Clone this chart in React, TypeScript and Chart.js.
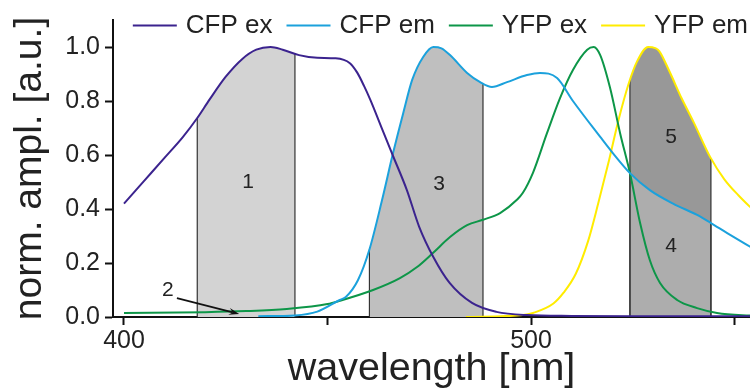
import { useEffect, useRef } from "react";
import { Chart, registerables } from "chart.js";

Chart.register(...registerables);

const FONT = "'Liberation Sans', Arial, Helvetica, sans-serif";
const TEXT = "#222222";
const AXIS = "#111111";

// CFP excitation spectrum
const CFP_EX_NM = [400, 405, 410, 414.5, 418, 421, 425, 429, 432.5, 436, 439, 443, 447.5, 452, 455.5, 457.3, 459, 460.5, 463.5, 466, 469.5, 472.5, 476, 480, 485.5, 491.5, 499, 510, 525, 555];
const CFP_EX = [0.42, 0.505, 0.59, 0.667, 0.737, 0.805, 0.89, 0.955, 0.99, 1.0, 0.99, 0.97, 0.96, 0.958, 0.94, 0.905, 0.855, 0.805, 0.693, 0.6, 0.47, 0.335, 0.222, 0.126, 0.052, 0.019, 0.007, 0.004, 0.003, 0.003];

// CFP emission spectrum
const CFP_EM_NM = [433, 442, 447.5, 453, 454.5, 457.5, 460.3, 463.4, 466.1, 468.6, 470.8, 473.5, 476, 478, 480.1, 484.3, 487.5, 490.4, 494.1, 499, 502.2, 506.4, 510.3, 517, 520.1, 524.3, 529.2, 534.9, 540.8, 544.2, 548.2, 555];
const CFP_EM = [0.003, 0.006, 0.02, 0.063, 0.074, 0.137, 0.25, 0.433, 0.607, 0.755, 0.878, 0.963, 1.0, 0.995, 0.97, 0.904, 0.87, 0.852, 0.87, 0.896, 0.904, 0.885, 0.8, 0.667, 0.607, 0.533, 0.47, 0.42, 0.378, 0.348, 0.311, 0.25];

// YFP excitation spectrum
const YFP_EX_NM = [400, 420, 430, 440, 450, 453, 461.2, 467.8, 472, 475.9, 480.1, 484.3, 488.2, 492.4, 496.6, 498, 500.5, 503.9, 507.1, 510.3, 513.8, 515.4, 517, 519.4, 521.9, 524.3, 526.8, 529.2, 531.7, 535.9, 540.8, 545.7, 555];
const YFP_EX = [0.015, 0.018, 0.022, 0.03, 0.048, 0.06, 0.1, 0.144, 0.185, 0.237, 0.296, 0.34, 0.36, 0.385, 0.435, 0.46, 0.535, 0.68, 0.81, 0.915, 0.99, 1.0, 0.97, 0.85, 0.68, 0.533, 0.348, 0.21, 0.126, 0.063, 0.033, 0.015, 0.004];

// YFP emission spectrum
const YFP_EM_NM = [484, 498, 500.5, 505.5, 508, 511, 514, 516.5, 519, 521.5, 524, 526, 528.8, 530.5, 531.5, 534, 537, 540, 544, 547.5, 551, 555];
const YFP_EM = [0.0, 0.007, 0.015, 0.05, 0.09, 0.16, 0.28, 0.42, 0.57, 0.73, 0.865, 0.945, 1.0, 0.996, 0.985, 0.91, 0.81, 0.72, 0.593, 0.51, 0.45, 0.39];

const SERIES_NAMES = ["CFP ex", "CFP em", "YFP ex", "YFP em"];
const SERIES_COLORS = ["#3b238e", "#1ba1dc", "#0d9648", "#ffec00"];
const SERIES_NM = [CFP_EX_NM, CFP_EM_NM, YFP_EX_NM, YFP_EM_NM];
const SERIES_VALUES = [CFP_EX, CFP_EM, YFP_EX, YFP_EM];

const X_TICKS = [400, 450, 500, 550];
const X_LABELED = [400, 500];
const Y_TICKS = [0, 0.2, 0.4, 0.6, 0.8, 1.0];

// Detection windows, each shaded under one spectrum
const BAND_FROM = [418, 460.3, 524.3, 524.3];
const BAND_TO = [442, 488.2, 544.2, 544.2];
const BAND_SERIES = [0, 1, 3, 1];
const BAND_FILL = ["#d3d3d3", "#bfbfbf", "#989898", "#adadad"];

// Numbered regions
const REGION_TAGS = ["1", "2", "3", "4", "5"];
const REGION_TAG_NM = [430.5, 410.8, 477.4, 534.4, 534.4];
const REGION_TAG_VAL = [0.5, 0.1, 0.49, 0.263, 0.667];
const ARROW_FROM = [413, 0.07];
const ARROW_TO = [428.3, 0.011];

// y pixel of a drawn curve at pixel column px
function curveY(line: any, px: number): number | null {
  const p = line.interpolate({ x: px }, "x");
  if (!p) return null;
  return Array.isArray(p) ? p[0].y : p.y;
}

const bandsPlugin = {
  id: "bands",
  beforeDatasetsDraw(chart: any) {
    const { ctx, chartArea, scales } = chart;
    const xs = scales.x;
    const base = scales.y.getPixelForValue(0);
    BAND_FROM.forEach((from, i) => {
      const line = chart.getDatasetMeta(BAND_SERIES[i]).dataset;
      line.updateControlPoints(chartArea, "x");
      const x0 = xs.getPixelForValue(from);
      const x1 = xs.getPixelForValue(BAND_TO[i]);
      ctx.save();
      ctx.beginPath();
      ctx.moveTo(x0, base);
      const steps = Math.max(2, Math.ceil((x1 - x0) * 2));
      for (let k = 0; k <= steps; k++) {
        const px = x0 + ((x1 - x0) * k) / steps;
        const py = curveY(line, px);
        if (py !== null) ctx.lineTo(px, py);
      }
      ctx.lineTo(x1, base);
      ctx.closePath();
      ctx.fillStyle = BAND_FILL[i];
      ctx.fill();
      ctx.restore();
    });
    ctx.save();
    ctx.strokeStyle = "#333333";
    ctx.lineWidth = 1.2;
    BAND_FROM.forEach((from, i) => {
      const line = chart.getDatasetMeta(BAND_SERIES[i]).dataset;
      [from, BAND_TO[i]].forEach((nm) => {
        const px = xs.getPixelForValue(nm);
        const py = curveY(line, px);
        if (py === null) return;
        ctx.beginPath();
        ctx.moveTo(px, base);
        ctx.lineTo(px, py);
        ctx.stroke();
      });
    });
    ctx.restore();
  },
};

const tagsPlugin = {
  id: "regionTags",
  afterDatasetsDraw(chart: any) {
    const { ctx, scales } = chart;
    const xs = scales.x;
    const ys = scales.y;
    ctx.save();
    ctx.fillStyle = TEXT;
    ctx.font = `21px ${FONT}`;
    ctx.textAlign = "center";
    ctx.textBaseline = "middle";
    REGION_TAGS.forEach((t, i) => {
      ctx.fillText(t, xs.getPixelForValue(REGION_TAG_NM[i]), ys.getPixelForValue(REGION_TAG_VAL[i]));
    });
    // pointer to region 2
    const ax = xs.getPixelForValue(ARROW_FROM[0]);
    const ay = ys.getPixelForValue(ARROW_FROM[1]);
    const bx = xs.getPixelForValue(ARROW_TO[0]);
    const by = ys.getPixelForValue(ARROW_TO[1]);
    const ang = Math.atan2(by - ay, bx - ax);
    const head = 11;
    ctx.strokeStyle = "#111111";
    ctx.fillStyle = "#111111";
    ctx.lineWidth = 1.6;
    ctx.beginPath();
    ctx.moveTo(ax, ay);
    ctx.lineTo(bx - Math.cos(ang) * head * 0.6, by - Math.sin(ang) * head * 0.6);
    ctx.stroke();
    ctx.beginPath();
    ctx.moveTo(bx, by);
    ctx.lineTo(bx - head * Math.cos(ang - 0.32), by - head * Math.sin(ang - 0.32));
    ctx.lineTo(bx - head * 0.6 * Math.cos(ang), by - head * 0.6 * Math.sin(ang));
    ctx.lineTo(bx - head * Math.cos(ang + 0.32), by - head * Math.sin(ang + 0.32));
    ctx.closePath();
    ctx.fill();
    ctx.restore();
  },
};

const legendPlugin = {
  id: "lineLegend",
  afterDraw(chart: any) {
    const { ctx } = chart;
    const lineLen = 44;
    const textGap = 9;
    const itemGap = 14;
    const y = 25.5;
    ctx.save();
    ctx.font = `26px ${FONT}`;
    const widths = SERIES_NAMES.map((n) => ctx.measureText(n).width);
    const total = widths.reduce((a, w) => a + lineLen + textGap + w, 0) + itemGap * (SERIES_NAMES.length - 1);
    let x = chart.width - 2 - total;
    SERIES_NAMES.forEach((name, i) => {
      ctx.strokeStyle = SERIES_COLORS[i];
      ctx.lineWidth = 2;
      ctx.beginPath();
      ctx.moveTo(x, y);
      ctx.lineTo(x + lineLen, y);
      ctx.stroke();
      ctx.fillStyle = TEXT;
      ctx.textAlign = "left";
      ctx.textBaseline = "middle";
      ctx.fillText(name, x + lineLen + textGap, y);
      x += lineLen + textGap + widths[i] + itemGap;
    });
    ctx.restore();
  },
};

export default function App() {
  const canvasRef = useRef<HTMLCanvasElement | null>(null);

  useEffect(() => {
    const canvas = canvasRef.current;
    if (!canvas) return;
    const axisCommon = {
      grid: {
        display: true,
        drawOnChartArea: false,
        drawTicks: true,
        tickLength: 8,
        tickColor: AXIS,
        tickWidth: 2,
        color: AXIS,
      },
      border: { display: true, color: AXIS, width: 2 },
    };
    const chart = new Chart(canvas, {
      type: "line",
      data: {
        datasets: SERIES_NAMES.map((name, i) => ({
          label: name,
          data: SERIES_NM[i].map((x, j) => ({ x, y: SERIES_VALUES[i][j] })),
          borderColor: SERIES_COLORS[i],
          backgroundColor: SERIES_COLORS[i],
          borderWidth: 2,
          pointRadius: 0,
          fill: false,
          cubicInterpolationMode: "monotone" as const,
        })),
      },
      options: {
        animation: false,
        responsive: false,
        devicePixelRatio: 1,
        layout: { padding: { top: 20, left: 0, right: 0, bottom: 0 } },
        plugins: {
          legend: { display: false },
          tooltip: { enabled: false },
        },
        scales: {
          x: {
            type: "linear",
            min: 397.3,
            max: 553.8,
            afterBuildTicks: (s: any) => {
              s.ticks = X_TICKS.map((v) => ({ value: v }));
            },
            ticks: {
              autoSkip: false,
              maxRotation: 0,
              padding: 1,
              color: TEXT,
              font: { family: FONT, size: 25, lineHeight: 1.2 },
              callback: (v: any) => (X_LABELED.includes(Number(v)) ? String(v) : ""),
            },
            title: {
              display: true,
              text: "wavelength [nm]",
              color: TEXT,
              font: { family: FONT, size: 39.5, lineHeight: 25 / 39.5 },
              padding: { top: 0, bottom: 10 },
            },
            ...axisCommon,
          },
          y: {
            type: "linear",
            min: 0,
            max: 1.1,
            afterBuildTicks: (s: any) => {
              s.ticks = Y_TICKS.map((v) => ({ value: v }));
            },
            ticks: {
              padding: 5,
              color: TEXT,
              font: { family: FONT, size: 25, lineHeight: 1.2 },
              callback: (v: any) => Number(v).toFixed(1),
            },
            title: {
              display: true,
              text: "norm. ampl. [a.u.]",
              color: TEXT,
              font: { family: FONT, size: 39, lineHeight: 1.2 },
              padding: { top: 6.6, bottom: 6.85 },
            },
            ...axisCommon,
          },
        },
      },
      plugins: [bandsPlugin, tagsPlugin, legendPlugin],
    });
    return () => chart.destroy();
  }, []);

  return (
    <div style={{ position: "absolute", left: 0, top: 0, width: 750, height: 392, background: "#ffffff" }}>
      <canvas ref={canvasRef} width={750} height={392} style={{ display: "block" }} />
    </div>
  );
}
